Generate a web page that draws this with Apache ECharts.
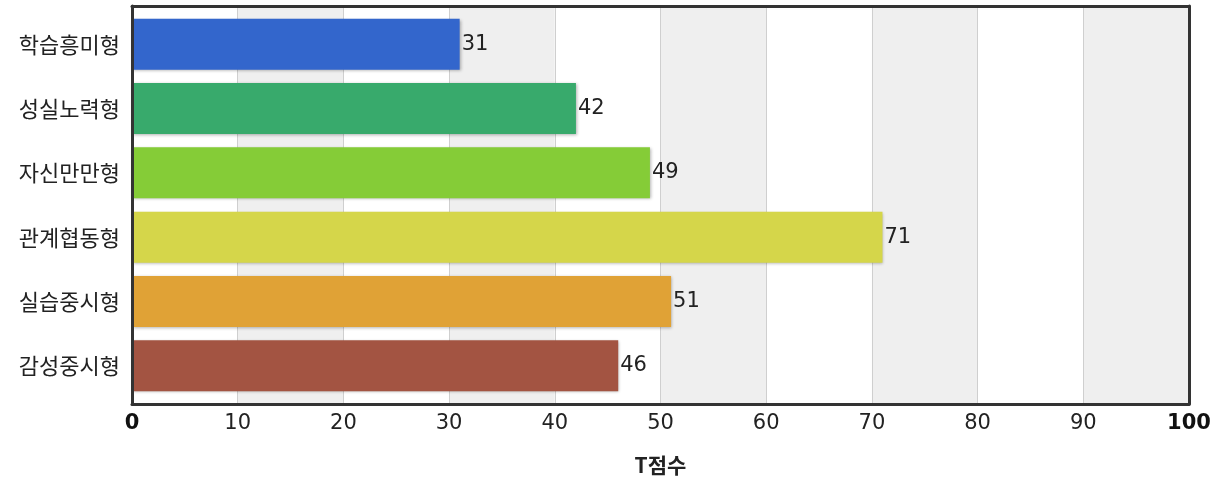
<!DOCTYPE html>
<html>
<head>
<meta charset="utf-8">
<script src="https://cdn.jsdelivr.net/npm/echarts@6/dist/echarts.min.js"></script>
<style>
  html, body { margin: 0; padding: 0; background: #fff; }
  #chart { width: 1218px; height: 485px; }
</style>
</head>
<body>
<div id="chart"></div>
<script>
// Learning-type T-scores
const categories = ['학습흥미형', '성실노력형', '자신만만형', '관계협동형', '실습중시형', '감성중시형'];
const scores = [31, 42, 49, 71, 51, 46];
const barColors = ['#3366cc', '#38aa6c', '#85cc37', '#d5d64a', '#e0a236', '#a35442'];
const axisMin = 0;
const axisMax = 100;
const axisStep = 10;
const axisTitle = 'T점수';

const font = '"Noto Sans CJK KR", "DejaVu Sans", sans-serif';
const numFont = '"DejaVu Sans", sans-serif';
const frameLine = { show: true, onZero: false, lineStyle: { color: '#333', width: 3 } };

const chart = echarts.init(document.getElementById('chart'));
chart.setOption({
  animation: false,
  backgroundColor: '#fff',
  grid: [
    // frame with banded background and score axis
    { left: 132, right: 29, top: 6, bottom: 81 },
    // bars
    { left: 132, right: 29, top: 12, bottom: 87 }
  ],
  xAxis: [
    {
      gridIndex: 0, type: 'value', min: axisMin, max: axisMax, interval: axisStep,
      axisLine: frameLine,
      axisTick: { show: false },
      splitLine: { show: true, lineStyle: { color: '#cfcfcf', width: 1 } },
      splitArea: { show: true, areaStyle: { color: ['#ffffff', '#efefef'] } },
      axisLabel: {
        margin: 9,
        fontSize: 21,
        color: '#222',
        fontFamily: numFont,
        formatter: v => (v === axisMin || v === axisMax) ? '{b|' + v + '}' : String(v),
        rich: { b: { fontSize: 21, fontWeight: 'bold', color: '#111', fontFamily: numFont } }
      },
      name: axisTitle,
      nameLocation: 'middle',
      nameGap: 51,
      nameTextStyle: { fontSize: 21, fontWeight: 'bold', color: '#222', fontFamily: font }
    },
    {
      gridIndex: 0, type: 'value', position: 'top', min: axisMin, max: axisMax,
      axisLine: frameLine, axisTick: { show: false }, axisLabel: { show: false }, splitLine: { show: false }
    },
    {
      gridIndex: 1, type: 'value', min: axisMin, max: axisMax, show: false
    }
  ],
  yAxis: [
    {
      gridIndex: 0, type: 'value', position: 'left', z: 5,
      axisLine: frameLine, axisTick: { show: false }, axisLabel: { show: false }, splitLine: { show: false }
    },
    {
      gridIndex: 0, type: 'value', position: 'right',
      axisLine: frameLine, axisTick: { show: false }, axisLabel: { show: false }, splitLine: { show: false }
    },
    {
      gridIndex: 1, type: 'category', data: categories, inverse: true,
      axisLine: { show: false }, axisTick: { show: false }, splitLine: { show: false },
      axisLabel: { margin: 12, fontSize: 22, color: '#222', fontFamily: font }
    }
  ],
  series: [{
    type: 'bar',
    xAxisIndex: 2,
    yAxisIndex: 2,
    barWidth: 51,
    data: scores.map((v, i) => ({ value: v, itemStyle: { color: barColors[i] } })),
    itemStyle: {
      shadowColor: 'rgba(0,0,0,0.3)',
      shadowBlur: 3,
      shadowOffsetX: 1,
      shadowOffsetY: 1
    },
    label: {
      show: true,
      position: 'right',
      distance: 2,
      fontSize: 21,
      color: '#222',
      fontFamily: numFont
    }
  }]
});
</script>
</body>
</html>
